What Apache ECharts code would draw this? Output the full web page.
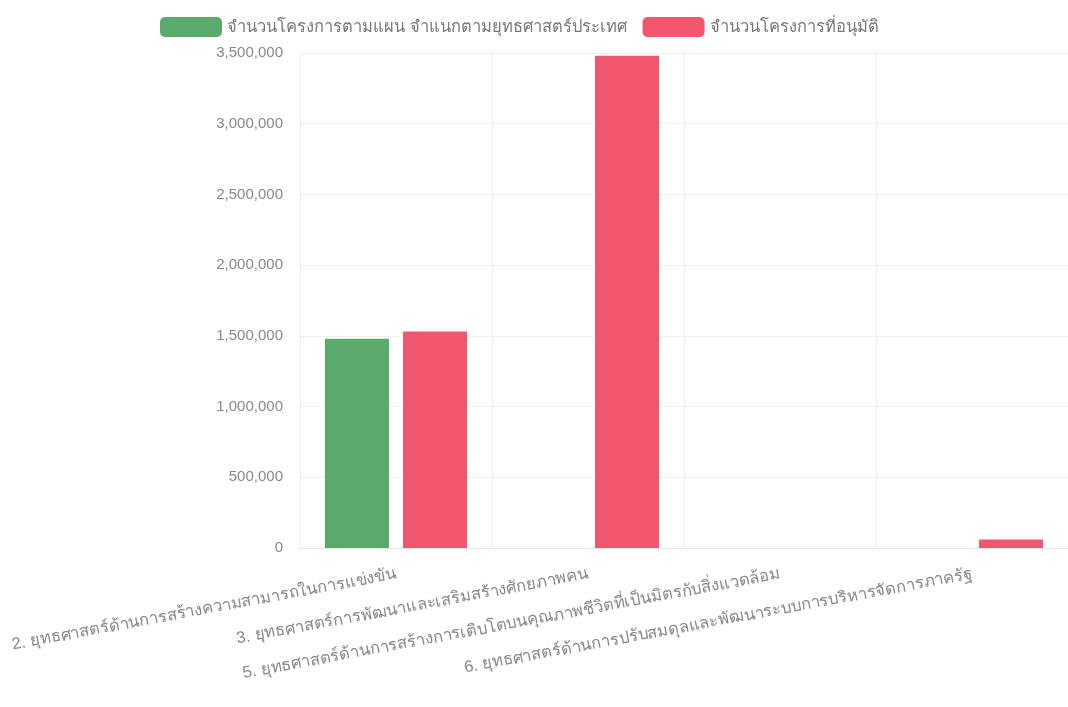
<!DOCTYPE html>
<html><head><meta charset="utf-8">
<script src="https://cdn.jsdelivr.net/npm/echarts@6/dist/echarts.min.js"></script>
<style>html,body{margin:0;padding:0;background:#fff}#c{width:1068px;height:707px}</style>
</head><body><div id="c"></div>
<script>
const categories = [
  "2. ยุทธศาสตร์ด้านการสร้างความสามารถในการแข่งขัน",
  "3. ยุทธศาสตร์การพัฒนาและเสริมสร้างศักยภาพคน",
  "5. ยุทธศาสตร์ด้านการสร้างการเติบโตบนคุณภาพชีวิตที่เป็นมิตรกับสิ่งแวดล้อม",
  "6. ยุทธศาสตร์ด้านการปรับสมดุลและพัฒนาระบบการบริหารจัดการภาครัฐ"
];
const seriesNames = ["จำนวนโครงการตามแผน จำแนกตามยุทธศาสตร์ประเทศ", "จำนวนโครงการที่อนุมัติ"];
const plannedValues = [1480000, 0, 0, 0];
const approvedValues = [1530000, 3480000, 0, 60000];

const chart = echarts.init(document.getElementById('c'));
chart.setOption({
  animation: false,
  textStyle: {fontFamily: 'sans-serif'},
  legend: {
    top: 12, left: 155, itemWidth: 62, itemHeight: 20, itemGap: 16,
    textStyle: {color: '#777', fontSize: 16.5},
    data: seriesNames
  },
  grid: {left: 300, right: 0, top: 53, bottom: 159, containLabel: false},
  xAxis: {
    type: 'category', data: categories,
    axisLine: {lineStyle: {color: '#e8e8e8'}},
    axisTick: {show: false},
    splitLine: {show: true, lineStyle: {color: '#efefef'}},
    axisLabel: {interval: 0, rotate: 10.5, color: '#888', fontSize: 16.5, margin: 26}
  },
  yAxis: {
    type: 'value', min: 0, max: 3500000, interval: 500000,
    axisLine: {show: false}, axisTick: {show: false},
    splitLine: {lineStyle: {color: '#efefef'}},
    axisLabel: {color: '#888', fontSize: 15, margin: 17,
      formatter: v => v.toLocaleString('en-US')}
  },
  series: [
    {name: seriesNames[0], type: 'bar', data: plannedValues, barWidth: 64, barGap: '22%',
     itemStyle: {color: '#5aab6b'}},
    {name: seriesNames[1], type: 'bar', data: approvedValues, barWidth: 64,
     itemStyle: {color: '#f0566d'}}
  ]
});
</script></body></html>
